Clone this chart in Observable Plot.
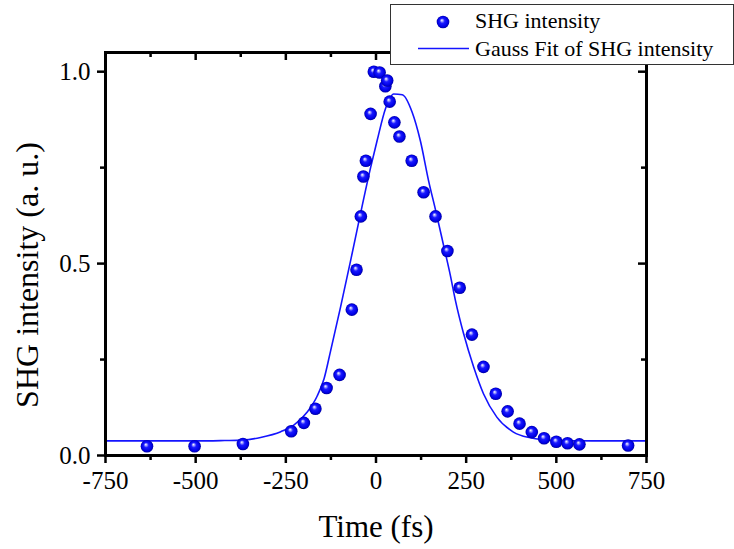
<!DOCTYPE html>
<html><head><meta charset="utf-8">
<script src="https://cdn.jsdelivr.net/npm/d3@7"></script>
<script src="https://cdn.jsdelivr.net/npm/@observablehq/plot@0.6"></script>
<style>
html,body{margin:0;padding:0;background:#fff;}
#wrap{position:relative;width:734px;height:549px;overflow:hidden;}
#legend{position:absolute;left:0;top:0;pointer-events:none;}
svg text{font-family:'Liberation Serif','Times New Roman',Times,serif;}
</style></head><body><div id="wrap"></div>
<script>
// Measured data (SHG intensity, normalized)
const timeFs = [-635,-503,-369,-235,-200,-168,-137,-101,-67,-54,-42,-35,-28,-15,-6,10,26,31,38,51,65,99,132,165,198,232,266,298,332,365,398,432,466,500,531,564,699];
const shgValue = [0.024,0.024,0.030,0.063,0.085,0.122,0.176,0.210,0.380,0.484,0.623,0.727,0.768,0.890,1.000,0.998,0.962,0.977,0.922,0.868,0.831,0.768,0.686,0.623,0.533,0.437,0.315,0.231,0.161,0.115,0.083,0.061,0.045,0.036,0.032,0.029,0.026];
// Gauss fit curve
const fitTime = [-750,-500,-420,-370,-320,-264,-227,-190,-163,-144,-126,-98,-71,-43,-15,3,26,49,73,100,123,146,165,188,206,220,243,271,298,335,381,428,480,520,600,750];
const fitValue = [0.038,0.038,0.039,0.040,0.047,0.062,0.080,0.114,0.155,0.200,0.272,0.388,0.505,0.630,0.750,0.820,0.903,0.942,0.940,0.895,0.820,0.715,0.640,0.545,0.470,0.405,0.317,0.230,0.161,0.100,0.061,0.046,0.040,0.039,0.038,0.038];
const xMajorTicks = [-750,-500,-250,0,250,500,750];
const xMinorTicks = [-625,-375,-125,125,375,625];
const yMajorTicks = [0,0.5,1];
const yMinorTicks = [0.25,0.75];
const seriesNames = ["SHG intensity","Gauss Fit of SHG intensity"];
const axisTitles = {x:"Time (fs)", y:"SHG intensity (a. u.)"};

const points = timeFs.map((t,i)=>({t, v: shgValue[i]}));
const fit = fitTime.map((t,i)=>({t, v: fitValue[i]}));
const W=734,H=549, mL=105, mR=88, mT=52, mB=94;
const pw = W-mL-mR, ph = H-mT-mB;
const serif = "'Liberation Serif','Times New Roman',Times,serif";
const fmtX = d => (d<0?"-":"")+Math.abs(d);
const blue = "#1414ff";

const chart = Plot.plot({
  width:W, height:H, marginLeft:mL, marginRight:mR, marginTop:mT, marginBottom:mB,
  style:{fontFamily:serif, color:"#000", background:"#fff", overflow:"visible"},
  x:{domain:[-750,750]}, y:{domain:[0,1.05]},
  marks:[
    Plot.line(fit,{x:"t",y:"v",stroke:blue,strokeWidth:1.6,curve:"monotone-x"}),
    Plot.dot(points,{x:"t",y:"v",r:6.3,fill:"url(#sphere)",stroke:"none"}),
    Plot.frame({stroke:"#000",strokeWidth:3}),
    Plot.axisX({ticks:xMajorTicks, tickFormat:fmtX, tickSize:8, tickPadding:8, strokeWidth:2.5, fontSize:25, fontFamily:serif, label:null}),
    Plot.axisX({ticks:xMinorTicks, tickFormat:()=>"", tickSize:5, strokeWidth:2.5, label:null}),
    Plot.tickX(xMajorTicks,{x:d=>d, insetBottom:ph-8, strokeWidth:2.5}),
    Plot.tickX(xMinorTicks,{x:d=>d, insetBottom:ph-5, strokeWidth:2.5}),
    Plot.axisY({ticks:yMajorTicks, tickFormat:d3.format(".1f"), tickSize:8, tickPadding:7, strokeWidth:2.5, fontSize:25, fontFamily:serif, label:null}),
    Plot.axisY({ticks:yMinorTicks, tickFormat:()=>"", tickSize:5, strokeWidth:2.5, label:null}),
    Plot.tickY(yMajorTicks,{y:d=>d, insetLeft:pw-8, strokeWidth:2.5}),
    Plot.tickY(yMinorTicks,{y:d=>d, insetLeft:pw-5, strokeWidth:2.5}),
    Plot.text([axisTitles.x],{text:d=>d, frameAnchor:"bottom", textAnchor:"middle", lineAnchor:"middle", dy:72, fontSize:31, fontFamily:serif, fill:"#000"}),
    Plot.text([axisTitles.y],{text:d=>d, frameAnchor:"left", textAnchor:"middle", lineAnchor:"middle", rotate:-90, dx:-78, dy:21, fontSize:32, fontFamily:serif, fill:"#000"})
  ]
});

const wrap = document.getElementById("wrap");
wrap.appendChild(chart);
const svg = chart.tagName.toLowerCase()==="svg" ? chart : chart.querySelector("svg");
const defs = d3.select(svg).insert("defs",":first-child");
const g = defs.append("radialGradient").attr("id","sphere")
  .attr("cx","0.5").attr("cy","0.5").attr("r","0.5").attr("fx","0.4").attr("fy","0.35");
[["0%","#ffffff"],["18%","#9a9aff"],["40%","#1a1aff"],["80%","#0000e6"],["100%","#0000a0"]]
  .forEach(([o,c])=>g.append("stop").attr("offset",o).attr("stop-color",c));

// Legend overlay (drawn over the top frame like the original)
const lg = d3.select(wrap).append("svg").attr("id","legend").attr("width",W).attr("height",H)
  .style("font-family",serif);
lg.append("rect").attr("x",390.5).attr("y",4.5).attr("width",343).attr("height",60)
  .attr("fill","#fff").attr("stroke","#333").attr("stroke-width",1);
lg.append("circle").attr("cx",443).attr("cy",22).attr("r",6.3).attr("fill","url(#sphere)");
lg.append("text").attr("x",475).attr("y",28).attr("font-size",22).attr("fill","#000").text(seriesNames[0]);
lg.append("line").attr("x1",418).attr("x2",469).attr("y1",48.5).attr("y2",48.5)
  .attr("stroke",blue).attr("stroke-width",1.6);
lg.append("text").attr("x",475).attr("y",56).attr("font-size",22).attr("fill","#000").text(seriesNames[1]);
</script></body></html>
